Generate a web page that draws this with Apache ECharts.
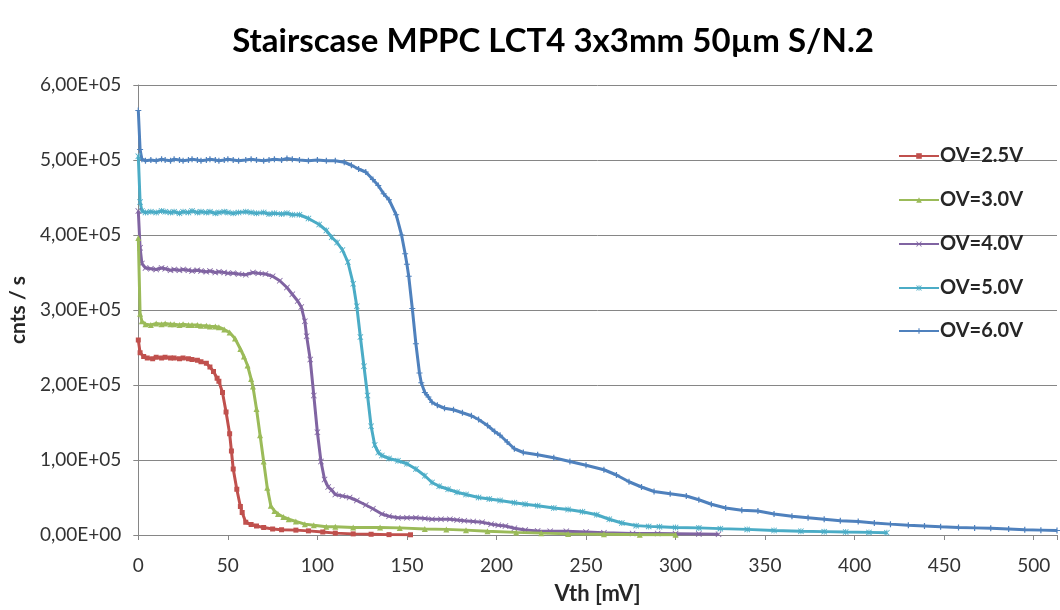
<!DOCTYPE html>
<html>
<head>
<meta charset="utf-8">
<script src="https://cdn.jsdelivr.net/npm/echarts@6/dist/echarts.min.js"></script>
<style>
html,body{margin:0;padding:0;background:#fff;}
#chart{width:1060px;height:610px;}
</style>
</head>
<body>
<div id="chart"></div>
<script>
const chartTitle = 'Stairscase MPPC LCT4 3x3mm 50µm S/N.2';
const seriesNames = ['OV=2.5V', 'OV=3.0V', 'OV=4.0V', 'OV=5.0V', 'OV=6.0V'];
const xTicks = [0, 50, 100, 150, 200, 250, 300, 350, 400, 450, 500];
const yTicks = [0, 100000, 200000, 300000, 400000, 500000, 600000];

const vth25 = [0,1,3,5,8,10,13,15,18,20,23,25,28,30,33,35,38,40,42,44,45,47,49,51,52,53,55,57,58,60,63,66,70,75,80,88,95,103,110,120,130,140,152];
const cnt25 = [260000,243000,238000,236000,235000,237000,236000,237000,236000,236000,235000,236000,235000,234000,233000,231000,229000,224000,218000,209000,205000,190000,164000,135000,112000,88000,61000,38000,30000,17000,14000,12000,10000,8000,7000,6500,5500,4000,2500,1500,1000,500,300];

const vth30 = [0,1,2,4,7,10,13,15,18,20,23,25,28,30,33,35,38,40,43,45,48,51,54,57,59,61,63,64,66,68,70,72,74,76,78,81,84,88,93,98,105,110,120,135,146,160,172,183,195,211,225,240,260,280,300];
const cnt30 = [396000,295000,285000,281000,280000,282000,281000,282000,281000,281000,280000,281000,280000,280000,280000,279000,279000,278000,278000,277000,274000,270000,262000,248000,238000,226000,208000,198000,168000,133000,98000,63000,39000,32000,28000,24000,21000,18000,14500,13000,11000,11000,10000,10000,9500,8000,7500,6500,5000,3500,2500,1500,1000,500,300];

const vth40 = [0,1,2,4,7,10,13,15,18,20,23,25,28,30,33,35,38,40,43,45,48,50,53,56,60,64,67,71,75,79,83,86,89,91,93,94,96,98,100,102,104,106,108,110,114,118,122,127,131,136,140,145,150,155,160,164,169,174,178,182,187,192,197,201,205,210,216,223,230,239,250,260,276,290,300,313,324];
const cnt40 = [432000,383000,362000,356000,355000,354000,356000,355000,353000,354000,353000,354000,353000,352000,353000,352000,351000,352000,350000,351000,350000,349000,349000,348000,347000,350000,349000,348000,345000,339000,330000,321000,312000,304000,285000,265000,234000,186000,137000,98000,74000,64000,60000,54000,52000,50000,46000,40000,35000,28000,25000,23000,23000,23000,22000,21000,21000,21000,20000,19000,18000,17000,14500,13000,12000,9000,6600,5500,5000,5000,4000,3000,2000,2000,1800,1500,1000];

const vth50 = [0,1,2,4,7,10,13,15,18,20,23,25,28,30,33,35,38,40,43,45,48,50,53,56,60,63,66,70,73,76,80,83,86,90,95,101,105,108,111,114,117,120,122,124,126,128,130,132,134,136,140,145,150,155,160,164,168,173,178,183,190,196,202,210,216,223,232,240,248,256,263,270,278,285,291,300,313,325,340,355,370,383,395,408,418];
const cnt50 = [505000,444000,432000,430000,431000,430000,432000,431000,430000,431000,429000,431000,430000,432000,430000,431000,430000,431000,429000,430000,431000,430000,429000,430000,431000,430000,429000,430000,428000,429000,428000,429000,427000,427000,422000,414000,406000,397000,390000,380000,364000,335000,305000,264000,225000,186000,145000,120000,110000,106000,102000,99000,95000,88000,79000,70000,65000,61000,57000,54000,50000,48000,46000,43000,41000,39000,36000,34000,31000,27000,21000,16000,12500,11500,11000,10000,9500,8500,7500,6000,5000,4500,4000,3500,3000];

const vth60 = [0,1,2,4,7,10,13,15,18,20,23,25,28,30,33,35,38,40,43,45,48,50,53,56,60,63,66,70,73,76,80,83,86,90,95,100,105,110,115,119,123,127,131,134,137,140,144,147,149,150,151,153,155,157,158,160,162,164,167,171,176,181,186,190,195,199,202,206,210,215,223,232,241,250,260,267,274,281,288,297,306,313,320,328,337,346,355,365,374,383,392,402,411,420,430,439,448,458,467,476,486,495,504,513];
const cnt60 = [566000,514000,501000,499000,500000,499000,501000,500000,499000,501000,500000,499000,500000,501000,500000,499000,500000,501000,500000,499000,500000,501000,500000,499000,500000,501000,500000,499000,500000,501000,500000,502000,501000,500000,499000,500000,499000,499000,497000,493000,488000,484000,474000,466000,455000,447000,427000,400000,375000,361000,345000,302000,255000,216000,203000,190000,184000,177000,173000,169000,167000,163000,159000,154000,146000,138000,133000,124000,115000,110000,107000,103000,98000,93000,87000,80000,71000,64000,58000,55000,52000,47000,41000,36000,33000,32000,28000,25000,23000,21000,19000,18000,16000,14500,13000,12000,11000,10000,9500,9000,8000,7000,6500,6000];

const seriesVth = [vth25, vth30, vth40, vth50, vth60];
const seriesCnt = [cnt25, cnt30, cnt40, cnt50, cnt60];
const seriesColors = ['#C0504D', '#9BBB59', '#8064A2', '#4BACC6', '#4F81BD'];
const seriesSymbols = [
  'rect',
  'triangle',
  'path://M0,1L1,0L5,4L9,0L10,1L6,5L10,9L9,10L5,6L1,10L0,9L4,5Z',
  'path://M0,1L1,0L5,4L9,0L10,1L6,5L10,9L9,10L5,6L1,10L0,9L4,5ZM4.3,0H5.7V10H4.3Z',
  'path://M4,0H6V4H10V6H6V10H4V6H0V4H4Z'
];
const legendTops = [141, 185, 229, 273, 316];

function fmtSci(v) {
  if (v === 0) return '0,00E+00';
  const e = Math.floor(Math.log10(Math.abs(v)) + 1e-9);
  const m = v / Math.pow(10, e);
  return m.toFixed(2).replace('.', ',') + 'E+' + (e < 10 ? '0' + e : e);
}

const chart = echarts.init(document.getElementById('chart'), null, {renderer: 'canvas'});
const FONT = 'Lato';

const series = seriesNames.map((name, i) => ({
  name: name,
  type: 'line',
  data: seriesVth[i].map((x, j) => [x, seriesCnt[i][j]]),
  symbol: seriesSymbols[i],
  symbolSize: i === 0 ? 5 : 6,
  showSymbol: true,
  lineStyle: {color: seriesColors[i], width: 3},
  itemStyle: {color: seriesColors[i]},
  animation: false,
  z: 10 - i
}));

const legends = seriesNames.map((name, i) => ({
  data: [name],
  orient: 'vertical',
  left: 893,
  top: legendTops[i],
  itemWidth: 40,
  itemHeight: 7,
  textStyle: {fontFamily: FONT, fontWeight: 'bold', fontSize: 20, color: '#262626', padding: [0, 0, 0, -4]}
}));

chart.setOption({
  backgroundColor: '#fff',
  animation: false,
  title: {
    text: chartTitle,
    left: 548,
    top: 20,
    textAlign: 'center',
    textStyle: {fontFamily: FONT, fontWeight: 'bold', fontSize: 33, color: '#000'}
  },
  legend: legends,
  grid: {left: 138, right: 0, top: 85, bottom: 69, containLabel: false},
  xAxis: {
    type: 'value',
    min: 0,
    max: 513,
    interval: 50,
    name: 'Vth [mV]',
    nameLocation: 'middle',
    nameGap: 48,
    nameTextStyle: {fontFamily: FONT, fontWeight: 'bold', fontSize: 22, color: '#262626'},
    axisLine: {show: true, lineStyle: {color: '#868686', width: 1}},
    axisTick: {show: true, inside: false, length: 5, lineStyle: {color: '#868686'}},
    axisLabel: {
      margin: 21,
      fontFamily: FONT, fontSize: 19, color: '#333',
      formatter: v => (xTicks.indexOf(v) >= 0 ? String(v) : '')
    },
    splitLine: {show: false}
  },
  yAxis: {
    type: 'value',
    min: 0,
    max: 600000,
    interval: 100000,
    name: 'cnts / s',
    nameLocation: 'middle',
    nameRotate: 90,
    nameGap: 102,
    nameTextStyle: {fontFamily: FONT, fontWeight: 'bold', fontSize: 21, color: '#262626'},
    axisLine: {show: true, lineStyle: {color: '#868686', width: 1}},
    axisTick: {show: true, inside: false, length: 5, lineStyle: {color: '#868686'}},
    axisLabel: {
      margin: 17,
      fontFamily: FONT, fontSize: 19, color: '#333',
      formatter: v => (yTicks.indexOf(v) >= 0 ? fmtSci(v) : '')
    },
    splitLine: {show: true, lineStyle: {color: '#868686', width: 1}}
  },
  series: series
});
</script>
</body>
</html>
